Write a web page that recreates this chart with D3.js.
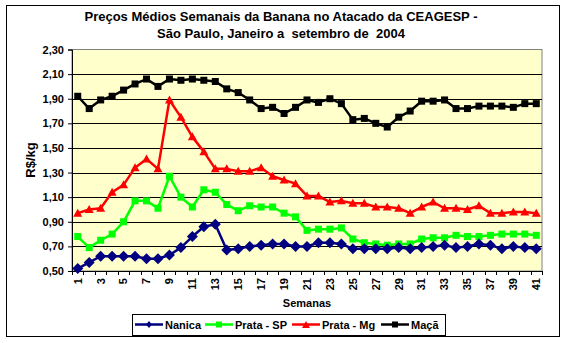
<!DOCTYPE html>
<html><head><meta charset="utf-8">
<script src="https://cdn.jsdelivr.net/npm/d3@7"></script>
<style>body{margin:0;background:#fff}svg{display:block}text{font-family:"Liberation Sans",Arial,sans-serif;font-weight:bold;white-space:pre}</style>
</head><body><svg id="c" width="567" height="343"></svg>
<script>
const weeks = d3.range(1, 42);
const nanica = [0.52,0.57,0.62,0.62,0.62,0.62,0.60,0.60,0.63,0.69,0.78,0.86,0.88,0.67,0.68,0.70,0.71,0.72,0.72,0.70,0.70,0.73,0.73,0.72,0.68,0.68,0.68,0.68,0.69,0.68,0.69,0.70,0.71,0.69,0.70,0.72,0.71,0.68,0.70,0.69,0.68];
const prataSP = [0.78,0.69,0.75,0.80,0.90,1.07,1.07,1.01,1.27,1.10,1.02,1.16,1.14,1.04,0.99,1.03,1.02,1.02,0.97,0.94,0.83,0.84,0.84,0.85,0.76,0.73,0.72,0.71,0.72,0.72,0.76,0.77,0.77,0.79,0.78,0.78,0.79,0.80,0.80,0.80,0.79];
const prataMG = [0.97,1.00,1.01,1.14,1.20,1.34,1.41,1.33,1.89,1.75,1.59,1.47,1.33,1.33,1.31,1.31,1.34,1.27,1.24,1.21,1.11,1.11,1.06,1.07,1.05,1.05,1.02,1.02,1.01,0.97,1.02,1.06,1.01,1.01,1.00,1.03,0.97,0.97,0.98,0.98,0.97];
const maca = [1.92,1.82,1.89,1.92,1.97,2.02,2.06,2.00,2.06,2.05,2.06,2.05,2.04,1.98,1.95,1.89,1.82,1.83,1.78,1.83,1.89,1.87,1.90,1.86,1.73,1.74,1.70,1.67,1.75,1.80,1.88,1.88,1.89,1.82,1.82,1.84,1.84,1.84,1.83,1.86,1.86];
const yTicks = [0.5,0.7,0.9,1.1,1.3,1.5,1.7,1.9,2.1,2.3];
const seriesNames = ["Nanica","Prata - SP","Prata - Mg","Maçã"];
const seriesColors = ["#000080","#00FF00","#FF0000","#000000"];
const seriesMarkers = ["diamond","square","triangle","square"];
const titleLines = ["Preços Médios Semanais da Banana no Atacado da CEAGESP -","São Paulo, Janeiro a  setembro de  2004"];

const series = [nanica, prataSP, prataMG, maca].map((v,i)=>({name:seriesNames[i],color:seriesColors[i],marker:seriesMarkers[i],values:v}));

const svg = d3.select("#c");
const L=72, R=542, T=49.5, B=271;

svg.append("rect").attr("x",6.5).attr("y",5.5).attr("width",553).attr("height",331).attr("fill","#fff").attr("stroke","#000").attr("stroke-width",1);

const x = d3.scaleBand().domain(weeks).range([L,R]).paddingInner(0).paddingOuter(0);
const y = d3.scaleLinear().domain([0.5,2.3]).range([B,T]);

svg.append("rect").attr("x",L).attr("y",T).attr("width",R-L).attr("height",B-T).attr("fill","#FFFFCC").attr("stroke","#808080");

svg.append("g").selectAll("line").data(yTicks.slice(1,-1)).join("line")
  .attr("x1",L).attr("x2",R).attr("y1",d=>Math.round(y(d))+0.5).attr("y2",d=>Math.round(y(d))+0.5).attr("stroke","#000");

// y axis
const ya = svg.append("g").attr("transform",`translate(${L},0)`)
  .call(d3.axisLeft(y).tickValues(yTicks).tickSize(4).tickPadding(4).tickFormat(d=>d3.format(".2f")(d).replace(".",",")));
ya.select(".domain").attr("stroke","#000");
ya.selectAll("text").attr("font-size",11).attr("fill","#000").style("font-family",'"Liberation Sans",Arial,sans-serif').style("font-weight","bold");

// x axis
const xa = svg.append("g").attr("transform",`translate(0,${B})`)
  .call(d3.axisBottom(x).tickSize(0).tickFormat(d=>d%2===1?d:""));
xa.select(".domain").attr("stroke","#000");
xa.selectAll(".tick text").attr("transform","rotate(-90)").attr("text-anchor","end").attr("x",-7).attr("y",0).attr("dy","0.35em")
  .attr("font-size",11).attr("fill","#000").style("font-family",'"Liberation Sans",Arial,sans-serif').style("font-weight","bold");
svg.append("g").selectAll("line").data(d3.range(0,42)).join("line")
  .attr("x1",d=>Math.round(L+d*x.bandwidth())+0.5).attr("x2",d=>Math.round(L+d*x.bandwidth())+0.5)
  .attr("y1",B).attr("y2",B+4).attr("stroke","#000");

const line = d3.line().x((d,i)=>x(weeks[i])+x.bandwidth()/2).y(d=>y(d));

function marker(g, type, color, cx, cy){
  if(type==="diamond"){
    g.append("path").attr("d",`M${cx},${cy-5.5}L${cx+5.5},${cy}L${cx},${cy+5.5}L${cx-5.5},${cy}Z`).attr("fill",color);
  } else if(type==="square"){
    g.append("rect").attr("x",cx-3.5).attr("y",cy-3.5).attr("width",7).attr("height",7).attr("fill",color);
  } else {
    g.append("path").attr("d",`M${cx},${cy-4.5}L${cx+4.5},${cy+3.5}L${cx-4.5},${cy+3.5}Z`).attr("fill",color);
  }
}

const order = [3,2,1,0];
order.forEach(k=>{
  const s = series[k];
  const g = svg.append("g");
  g.append("path").attr("d",line(s.values)).attr("fill","none").attr("stroke",s.color).attr("stroke-width",2.5).attr("stroke-linejoin","round");
  s.values.forEach((v,i)=>marker(g,s.marker,s.color,x(weeks[i])+x.bandwidth()/2,y(v)));
});

// titles
svg.selectAll(".title").data(titleLines).join("text").attr("class","title")
  .attr("x",281).attr("y",(d,i)=>21+i*17).attr("text-anchor","middle").attr("font-size",13).text(d=>d);

svg.append("text").attr("transform","translate(35,160) rotate(-90)").attr("text-anchor","middle").attr("font-size",13).text("R$/kg");
svg.append("text").attr("x",307).attr("y",307).attr("text-anchor","middle").attr("font-size",11).text("Semanas");

// legend
const lg = svg.append("g");
lg.append("rect").attr("x",132.5).attr("y",314.5).attr("width",313).attr("height",21).attr("fill","#fff").attr("stroke","#000");
const lx = [135,205,292,381];
series.forEach((s,i)=>{
  lg.append("line").attr("x1",lx[i]).attr("x2",lx[i]+28).attr("y1",324.5).attr("y2",324.5).attr("stroke",s.color).attr("stroke-width",2.5);
  const m = lg.append("g");
  if(s.marker==="diamond") m.append("path").attr("d",`M${lx[i]+14},${321}L${lx[i]+17},${324.5}L${lx[i]+14},${328}L${lx[i]+11},${324.5}Z`).attr("fill",s.color);
  else if(s.marker==="square") m.append("rect").attr("x",lx[i]+11).attr("y",321.5).attr("width",6).attr("height",6).attr("fill",s.color);
  else m.append("path").attr("d",`M${lx[i]+14},${321}L${lx[i]+18},${328}L${lx[i]+10},${328}Z`).attr("fill",s.color);
  lg.append("text").attr("x",lx[i]+30).attr("y",329).attr("font-size",11).text(s.name);
});
</script></body></html>
